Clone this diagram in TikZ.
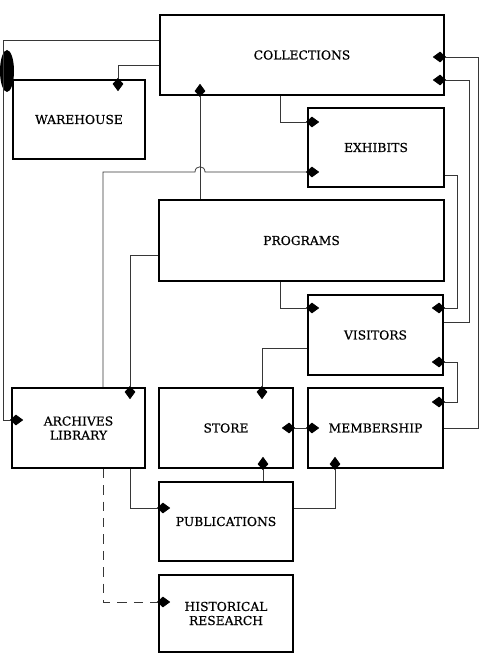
\documentclass[tikz,border=0pt]{standalone}
\usepackage{fontspec}
\newfontfamily\orgfont[FakeBold=0.5]{DejaVu Serif}
\usetikzlibrary{arrows.meta,calc}
\definecolor{OrgLinha}{RGB}{55,55,55}
\tikzset{
  depto/.style={draw=black, line width=1.3pt, inner sep=2pt, align=center,
                font=\orgfont\fontsize{10.5}{12}\selectfont, minimum height=2.4cm},
  fluxo/.style={-{Kite[length=4mm,width=3.2mm,inset=1.8mm,color=black]}, shorten >=-3.6mm,
                line width=0.65pt, OrgLinha},
  fluxoduplo/.style={{Kite[length=4mm,width=3.2mm,inset=1.8mm,color=black]}-{Kite[length=4mm,width=3.2mm,inset=1.8mm,color=black]},
                shorten >=-3.6mm, shorten <=-3.6mm, line width=0.65pt, OrgLinha},
  fluxotracejado/.style={fluxo, dash pattern=on 8pt off 6pt},
}

\begin{document}
\begin{tikzpicture}[x=0.03cm, y=-0.03cm]
  \useasboundingbox (0,0) rectangle (481,654);

  % Setores
  \node[depto, minimum width=8.52cm] (COL) at (302,55)    {COLLECTIONS};
  \node[depto, minimum width=3.96cm, minimum height=2.37cm] (WH) at (79,119.5) {WAREHOUSE};
  \node[depto, minimum width=4.08cm, minimum height=2.37cm] (EXH) at (376,147.5) {EXHIBITS};
  \node[depto, minimum width=8.55cm, minimum height=2.43cm] (PRG) at (301.5,240.5) {PROGRAMS};
  \node[depto, minimum width=4.05cm] (VIS) at (375.5,335) {VISITORS};
  \node[depto, minimum width=3.99cm] (ARC) at (78.5,428)  {ARCHIVES\\LIBRARY};
  \node[depto, minimum width=4.02cm] (STO) at (226,428)   {STORE};
  \node[depto, minimum width=4.05cm] (MEM) at (375.5,428) {MEMBERSHIP};
  \node[depto, minimum width=4.02cm, minimum height=2.37cm] (PUB) at (226,521.5) {PUBLICATIONS};
  \node[depto, minimum width=4.02cm, minimum height=2.31cm] (HIS) at (226,613.5) {HISTORICAL\\RESEARCH};

  % mancha preta junto ao depósito
  \fill (7,71) ellipse [x radius=0.21cm, y radius=0.63cm];

  % Lado esquerdo
  \draw[fluxo] (COL.west |- 0,40) -- (3,40) -- (3,420) -- (ARC.west |- 0,420);
  \draw[fluxo] (COL.west |- 0,65) -| (118,0 |- WH.north);
  \draw[fluxo] (200,0 |- PRG.north) -- (200,0 |- COL.south);
  \draw[fluxo] (280,0 |- COL.south) |- (EXH.west |- 0,122);
  % arquivo -> exposições, saltando a linha vertical
  \draw[fluxo] (103,0 |- ARC.north) -- (103,172) -- (195,172)
    .. controls (195,165) and (205,165) .. (205,172) -- (EXH.west |- 0,172);
  \draw[fluxo] (PRG.west |- 0,255) -| (130,0 |- ARC.north);
  \draw[fluxo] (280,0 |- PRG.south) |- (VIS.west |- 0,308);
  \draw[fluxo] (VIS.west |- 0,348) -| (262,0 |- STO.north);

  % Parte de baixo
  \draw[fluxoduplo] (STO.east) -- (MEM.west);
  \draw[fluxo] (263,0 |- PUB.north) -- (263,0 |- STO.south);
  \draw[fluxo] (PUB.east |- 0,508) -| (335,0 |- MEM.south);
  \draw[fluxo] (130,0 |- ARC.south) |- (PUB.west |- 0,508);
  \draw[fluxotracejado] (103,0 |- ARC.south) |- (HIS.west |- 0,602);

  % Lado direito
  \draw[fluxo] (MEM.east |- 0,428) -- (478,428) -- (478,57) -- (COL.east |- 0,57);
  \draw[fluxo] (VIS.east |- 0,322) -- (469,322) -- (469,80) -- (COL.east |- 0,80);
  \draw[fluxo] (EXH.east |- 0,175) -- (457,175) -- (457,308) -- (VIS.east |- 0,308);
  \draw[fluxoduplo] (VIS.east |- 0,362) -- (457,362) -- (457,402) -- (MEM.east |- 0,402);
\end{tikzpicture}
\end{document}
